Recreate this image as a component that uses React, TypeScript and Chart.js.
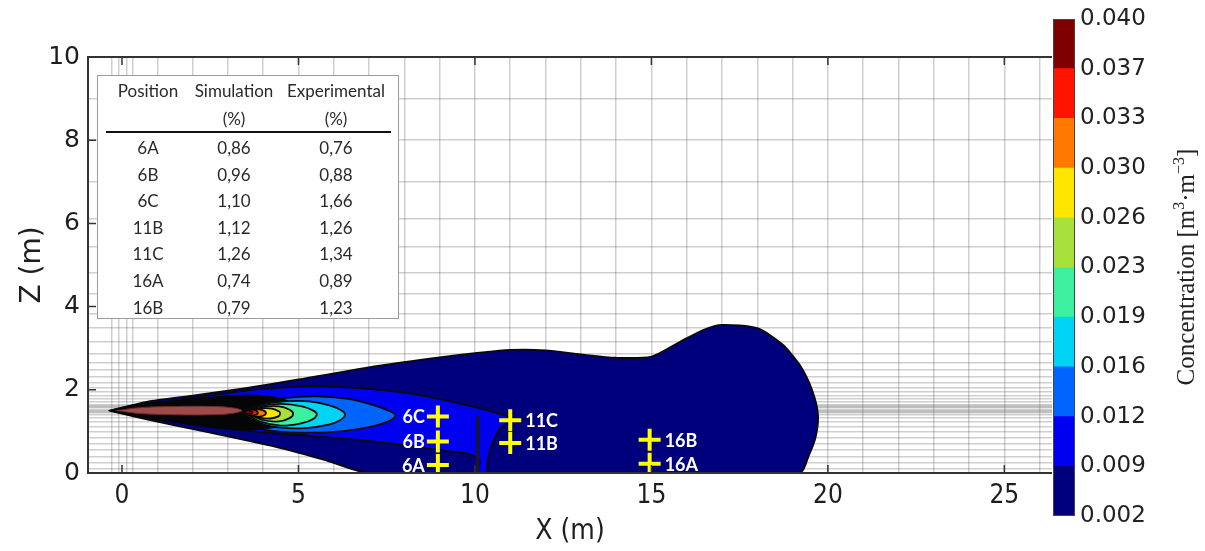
import React, { useEffect, useRef } from 'react';
import { Chart, registerables } from 'chart.js';

Chart.register(...registerables);

// ---------- axes ----------
const xTicks = [0, 5, 10, 15, 20, 25];
const zTicks = [0, 2, 4, 6, 8, 10];
const X_MIN = -0.963;
const X_MAX = 26.35;
const Z_MIN = 0;
const Z_MAX = 10;

// computational mesh lines (m)
const xMesh = [-0.28, -0.08, 0.14, 0.31, 1, 2, 3, 4, 5, 6, 7, 8, 9, 10, 11, 12, 13, 14, 15, 16, 17, 18, 19, 20, 21, 22, 23, 24, 25, 26];
const zMesh = [9, 8, 7, 6.12, 5.43, 4.82, 4.3, 3.84, 3.5, 3.16, 2.87, 2.64, 2.47, 2.32, 2.18, 2.06, 1.95, 1.86, 1.78, 1.71,
  1.65, 1.62, 1.59, 1.56, 1.53, 1.5, 1.47, 1.44, 1.41, 1.33, 1.22, 1.1, 0.98, 0.85, 0.7, 0.55, 0.4, 0.25, 0.11];

// ---------- colour scale ----------
const levels = [0.002, 0.009, 0.012, 0.016, 0.019, 0.023, 0.026, 0.030, 0.033, 0.037, 0.040];
const levelColors = ['#00007c', '#0000f0', '#0064ff', '#00d4f4', '#3cf0a0', '#a8e03c', '#ffe600', '#ff7800', '#ff1400', '#7f0000'];

// ---------- contour outlines [x (m), z (m)] ----------
const contour002 = [[-0.35, 1.5], [0.7, 1.71], [2, 1.86], [3.5, 2.04], [5, 2.25], [7.3, 2.58], [9, 2.78], [10, 2.88], [11, 2.96], [12, 2.95], [13, 2.85], [14, 2.77], [15, 2.8], [15.8, 3.15], [16.5, 3.45], [17, 3.56], [18, 3.48], [18.7, 3.1], [19.2, 2.6], [19.55, 2.0], [19.72, 1.4], [19.65, 0.85], [19.45, 0.4], [19.2, 0], [13, 0], [7, 0], [5.8, 0.3], [4.5, 0.6], [2.5, 0.97], [0.7, 1.29], [-0.35, 1.5]];
const contour009 = [[-0.15, 1.5], [1, 1.68], [2.5, 1.86], [4, 2.02], [5.5, 2.08], [7.3, 2.0], [8.5, 1.86], [9.6, 1.66], [10.5, 1.47], [11.0, 1.3], [10.7, 1.05], [10.45, 0.6], [10.35, 0.2], [10.33, 0], [10.1, 0], [10.1, 0.36], [9, 0.55], [7.3, 0.74], [5.5, 0.88], [3.3, 1.04], [1.5, 1.27], [-0.15, 1.5]];
const contour012 = [[3.2, 1.45], [3.8, 1.68], [4.6, 1.8], [5.5, 1.84], [6.4, 1.78], [7.1, 1.64], [7.55, 1.5], [7.75, 1.38], [7.55, 1.24], [7.0, 1.1], [6.2, 1.0], [5.3, 0.97], [4.4, 1.0], [3.7, 1.12], [3.2, 1.45]];
const contour016 = [[3.4, 1.45], [3.9, 1.63], [4.6, 1.72], [5.3, 1.72], [5.9, 1.62], [6.22, 1.5], [6.32, 1.4], [6.2, 1.28], [5.85, 1.16], [5.2, 1.08], [4.5, 1.09], [3.9, 1.2], [3.4, 1.45]];
const contour019 = [[3.5, 1.45], [3.9, 1.6], [4.5, 1.66], [5.1, 1.6], [5.42, 1.5], [5.52, 1.41], [5.42, 1.3], [5.1, 1.2], [4.5, 1.14], [3.9, 1.24], [3.5, 1.45]];
const contour023 = [[3.55, 1.45], [3.95, 1.58], [4.45, 1.6], [4.75, 1.52], [4.85, 1.42], [4.75, 1.32], [4.45, 1.24], [3.95, 1.28], [3.55, 1.45]];
const contour026 = [[3.55, 1.45], [3.9, 1.55], [4.25, 1.55], [4.45, 1.48], [4.48, 1.43], [4.43, 1.36], [4.2, 1.31], [3.9, 1.33], [3.55, 1.45]];
const contour030 = [[3.5, 1.46], [3.75, 1.53], [3.98, 1.51], [4.08, 1.44], [3.98, 1.37], [3.75, 1.36], [3.5, 1.46]];
const contour033 = [[3.45, 1.47], [3.65, 1.52], [3.8, 1.5], [3.85, 1.45], [3.8, 1.4], [3.65, 1.39], [3.45, 1.47]];
const contour037 = [[3.42, 1.47], [3.58, 1.51], [3.7, 1.46], [3.58, 1.41], [3.42, 1.47]];
const contours = [contour002, contour009, contour012, contour016, contour019, contour023, contour026, contour030, contour033, contour037];

// dense iso-line zone around the release, and the jet core
const denseZone = [[-0.38, 1.5], [0.5, 1.66], [1.5, 1.74], [2.5, 1.82], [3.4, 1.87], [4.2, 1.84], [4.8, 1.7], [5.1, 1.48], [4.8, 1.22], [4.2, 1.08], [3.4, 1.04], [2.5, 1.1], [1.5, 1.22], [0.5, 1.34], [-0.38, 1.5]];
const sourceCore = [[-0.15, 1.5], [0.5, 1.57], [1.5, 1.6], [2.5, 1.6], [3.1, 1.57], [3.4, 1.5], [3.1, 1.43], [2.5, 1.4], [1.5, 1.4], [0.5, 1.43], [-0.15, 1.5]];
const obstacle = [[10.08, 0], [10.08, 1.32]];

// ---------- measuring positions ----------
const markerNames = ['6A', '6B', '6C', '11B', '11C', '16A', '16B'];
const markerX = [8.95, 8.95, 8.95, 11.0, 11.0, 14.95, 14.95];
const markerZ = [0.19, 0.76, 1.36, 0.72, 1.27, 0.22, 0.8];
const labelsOnLeft = ['6A', '6B', '6C'];

// ---------- inset table ----------
const tablePositions = ['6A', '6B', '6C', '11B', '11C', '16A', '16B'];
const tableSimulation = ['0,86', '0,96', '1,10', '1,12', '1,26', '0,74', '0,79'];
const tableExperimental = ['0,76', '0,88', '1,66', '1,26', '1,34', '0,89', '1,23'];

const pts = (arr: number[][]) => arr.map(([x, y]) => ({ x, y }));

const MESH_COLOR = 'rgba(105,105,105,0.32)';
const AXIS_COLOR = '#333';
const TEXT_COLOR = '#1e1e1e';

const framePlugin = {
  id: 'frameAndLabels',
  afterDraw(chart: any) {
    const { ctx, chartArea } = chart;
    const { left, right, top, bottom } = chartArea;
    const xs = chart.scales.x;
    const ys = chart.scales.y;
    ctx.save();
    ctx.strokeStyle = AXIS_COLOR;
    ctx.lineWidth = 2;
    ctx.beginPath();
    ctx.moveTo(right, top);
    ctx.lineTo(left, top);
    ctx.lineTo(left, bottom);
    ctx.lineTo(right, bottom);
    ctx.stroke();
    ctx.lineWidth = 1.5;
    ctx.beginPath();
    xTicks.forEach((v) => {
      const p = xs.getPixelForValue(v);
      ctx.moveTo(p, bottom);
      ctx.lineTo(p, bottom - 8);
      ctx.moveTo(p, top);
      ctx.lineTo(p, top + 8);
    });
    zTicks.forEach((v) => {
      const p = ys.getPixelForValue(v);
      ctx.moveTo(left, p);
      ctx.lineTo(left + 8, p);
    });
    ctx.stroke();

    // marker labels
    ctx.font = 'bold 18px Lato, "Open Sans", sans-serif';
    ctx.fillStyle = '#ffffff';
    ctx.textBaseline = 'middle';
    markerNames.forEach((name, i) => {
      const px = xs.getPixelForValue(markerX[i]);
      const py = ys.getPixelForValue(markerZ[i]);
      if (labelsOnLeft.includes(name)) {
        ctx.textAlign = 'right';
        ctx.fillText(name, px - 13, py + 1);
      } else {
        ctx.textAlign = 'left';
        ctx.fillText(name, px + 15, py + 1);
      }
    });
    ctx.restore();
  },
};

const colorbarPlugin = {
  id: 'colorbarDeco',
  afterDraw(chart: any) {
    const { ctx, chartArea } = chart;
    ctx.save();
    ctx.strokeStyle = '#444';
    ctx.lineWidth = 1;
    ctx.strokeRect(chartArea.left + 0.5, chartArea.top + 0.5, chartArea.right - chartArea.left - 1, chartArea.bottom - chartArea.top - 1);
    // title, rotated, reading bottom to top
    const base = '25px "Liberation Serif", "Times New Roman", serif';
    const sup = '16px "Liberation Serif", "Times New Roman", serif';
    const pieces: [string, string, number][] = [
      ['Concentration [m', base, 0],
      ['3', sup, -10],
      ['\u00b7m', base, 0],
      ['\u22123', sup, -10],
      [']', base, 0],
    ];
    let total = 0;
    pieces.forEach(([t, f]) => { ctx.font = f; total += ctx.measureText(t).width; });
    ctx.translate(146, 267);
    ctx.rotate(-Math.PI / 2);
    ctx.fillStyle = '#222';
    ctx.textAlign = 'left';
    ctx.textBaseline = 'alphabetic';
    let xPos = -total / 2;
    pieces.forEach(([t, f, dy]) => {
      ctx.font = f;
      ctx.fillText(t, xPos, 8 + dy);
      xPos += ctx.measureText(t).width;
    });
    ctx.restore();
  },
};

export default function App() {
  const mainRef = useRef<HTMLCanvasElement>(null);
  const barRef = useRef<HTMLCanvasElement>(null);

  useEffect(() => {
    const datasets: any[] = [];
    const orderOf = [40, 38, 36, 34, 32, 30, 28, 26, 24, 22];
    contours.forEach((c, i) => {
      datasets.push({
        data: pts(c),
        backgroundColor: levelColors[i],
        borderColor: '#0a0a0a',
        borderWidth: 1.8,
        fill: 'shape',
        pointRadius: 0,
        tension: i === 0 ? 0.25 : 0.4,
        order: orderOf[i],
      });
    });
    datasets.push({
      data: pts(denseZone),
      backgroundColor: '#050505',
      borderColor: '#050505',
      borderWidth: 1,
      fill: 'shape',
      pointRadius: 0,
      tension: 0.4,
      order: 35,
    });
    datasets.push({
      data: pts(sourceCore),
      backgroundColor: '#9e4a4a',
      borderColor: '#6a2a2a',
      borderWidth: 1,
      fill: 'shape',
      pointRadius: 0,
      tension: 0.4,
      order: 20,
    });
    datasets.push({
      data: pts(obstacle),
      borderColor: '#14143c',
      borderWidth: 4,
      borderCapStyle: 'round',
      fill: false,
      pointRadius: 0,
      order: 10,
    });
    datasets.push({
      data: markerX.map((x, i) => ({ x, y: markerZ[i] })),
      showLine: false,
      fill: false,
      pointStyle: 'cross',
      pointRadius: 11,
      pointBorderWidth: 4,
      pointBorderColor: '#ffff00',
      pointBackgroundColor: '#ffff00',
      order: 0,
    });

    const main = new Chart(mainRef.current as HTMLCanvasElement, {
      type: 'line',
      data: { datasets },
      options: {
        animation: false,
        responsive: false,
        maintainAspectRatio: false,
        layout: { padding: { left: 0, right: 153, top: 57, bottom: 0 } },
        plugins: { legend: { display: false }, tooltip: { enabled: false } },
        scales: {
          x: {
            type: 'linear',
            position: 'bottom',
            min: X_MIN,
            max: X_MAX,
            afterBuildTicks: (s: any) => { s.ticks = xTicks.map((value) => ({ value })); },
            grid: { display: false, drawTicks: false },
            border: { display: false },
            ticks: {
              autoSkip: false,
              maxRotation: 0,
              padding: 8,
              color: TEXT_COLOR,
              font: { family: '"DejaVu Sans Condensed", "DejaVu Sans", sans-serif', size: 26 },
              callback: (v: any) => String(v),
            },
            title: {
              display: true,
              text: 'X (m)',
              color: TEXT_COLOR,
              font: { family: '"DejaVu Sans Condensed", "DejaVu Sans", sans-serif', size: 28 },
              padding: { top: 0, bottom: 2 },
            },
            afterFit: (s: any) => { s.height = 78; },
          },
          y: {
            type: 'linear',
            position: 'left',
            min: Z_MIN,
            max: Z_MAX,
            afterBuildTicks: (s: any) => { s.ticks = zTicks.map((value) => ({ value })); },
            grid: { display: false, drawTicks: false },
            border: { display: false },
            ticks: {
              autoSkip: false,
              padding: 8,
              color: TEXT_COLOR,
              font: { family: '"DejaVu Sans", sans-serif', size: 25 },
              callback: (v: any) => String(v),
            },
            title: {
              display: true,
              text: 'Z (m)',
              color: TEXT_COLOR,
              font: { family: '"DejaVu Sans", sans-serif', size: 28 },
              padding: { top: 16, bottom: 0 },
            },
            afterFit: (s: any) => { s.width = 88; },
          },
          xMesh: {
            type: 'linear',
            axis: 'x',
            position: 'bottom',
            min: X_MIN,
            max: X_MAX,
            z: 1,
            afterBuildTicks: (s: any) => { s.ticks = xMesh.map((value) => ({ value })); },
            grid: { color: MESH_COLOR, lineWidth: 1.5, drawTicks: false },
            border: { display: false },
            ticks: { display: false },
            afterFit: (s: any) => { s.height = 0; },
          },
          zMesh: {
            type: 'linear',
            axis: 'y',
            position: 'left',
            min: Z_MIN,
            max: Z_MAX,
            z: 1,
            afterBuildTicks: (s: any) => { s.ticks = zMesh.map((value) => ({ value })); },
            grid: { color: MESH_COLOR, lineWidth: 1.5, drawTicks: false },
            border: { display: false },
            ticks: { display: false },
            afterFit: (s: any) => { s.width = 0; },
          },
        },
      } as any,
      plugins: [framePlugin],
    });

    const bar = new Chart(barRef.current as HTMLCanvasElement, {
      type: 'bar',
      data: {
        labels: [''],
        datasets: levelColors.map((c, i) => ({
          data: [[i, i + 1]],
          backgroundColor: c,
          borderWidth: 0,
          grouped: false,
          barPercentage: 1,
          categoryPercentage: 1,
        })) as any,
      },
      options: {
        animation: false,
        responsive: false,
        maintainAspectRatio: false,
        layout: { padding: { left: 13, top: 19, bottom: 35, right: 0 } },
        plugins: { legend: { display: false }, tooltip: { enabled: false } },
        scales: {
          x: { display: false },
          y: {
            position: 'right',
            min: 0,
            max: levels.length - 1,
            afterBuildTicks: (s: any) => { s.ticks = levels.map((_, i) => ({ value: i })); },
            grid: { display: false, drawTicks: false },
            border: { display: false },
            ticks: {
              autoSkip: false,
              padding: 5,
              color: '#222',
              font: { family: '"DejaVu Sans", sans-serif', size: 23 },
              callback: (v: any) => levels[v].toFixed(3),
            },
            afterFit: (s: any) => { s.width = 130; },
          },
        },
      } as any,
      plugins: [colorbarPlugin],
    });

    return () => {
      main.destroy();
      bar.destroy();
    };
  }, []);

  const colCenters = [50, 136, 238];
  const cell = (text: string, cx: number, cy: number, key: string) => (
    <span key={key} style={{ position: 'absolute', left: cx - 70, top: cy - 11, width: 140, textAlign: 'center', lineHeight: '22px', whiteSpace: 'nowrap' }}>{text}</span>
  );

  return (
    <div style={{ position: 'fixed', left: 0, top: 0, width: 1205, height: 551, background: '#fff', overflow: 'hidden' }}>
      <canvas ref={mainRef} width={1205} height={551} style={{ position: 'absolute', left: 0, top: 0 }} />
      <canvas ref={barRef} width={165} height={551} style={{ position: 'absolute', left: 1040, top: 0 }} />
      <div style={{ position: 'absolute', left: 97, top: 75, width: 302, height: 244, boxSizing: 'border-box', background: '#fff', border: '1px solid #9c9c9c', fontFamily: 'Lato, "Open Sans", sans-serif', fontSize: 17, color: '#2a2a2a' }}>
        {cell('Position', colCenters[0], 15, 'h0')}
        {cell('Simulation', colCenters[1], 15, 'h1')}
        {cell('Experimental', colCenters[2], 15, 'h2')}
        {cell('(%)', colCenters[1], 43, 'u1')}
        {cell('(%)', colCenters[2], 43, 'u2')}
        <div style={{ position: 'absolute', left: 8, top: 55, width: 285, height: 2, background: '#111' }} />
        {tablePositions.map((p, i) => (
          <React.Fragment key={p}>
            {cell(p, colCenters[0], 72 + i * 26.6, 'p' + i)}
            {cell(tableSimulation[i], colCenters[1], 72 + i * 26.6, 's' + i)}
            {cell(tableExperimental[i], colCenters[2], 72 + i * 26.6, 'e' + i)}
          </React.Fragment>
        ))}
      </div>
    </div>
  );
}
